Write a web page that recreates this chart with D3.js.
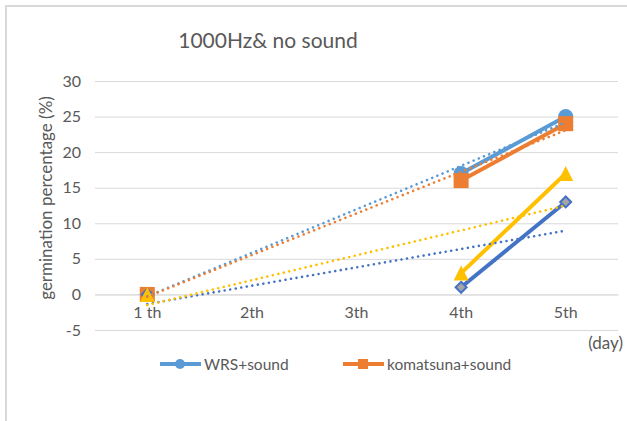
<!DOCTYPE html>
<html>
<head>
<meta charset="utf-8">
<script src="https://cdn.jsdelivr.net/npm/d3@7"></script>
<style>
  html, body { margin: 0; padding: 0; background: #fff; }
  svg { display: block; font-family: "Lato", "Liberation Sans", sans-serif; }
</style>
</head>
<body>
<svg id="chart" width="627" height="421"></svg>
<script>
// Germination percentage by day, with and without sound
const categories = ["1 th", "2th", "3th", "4th", "5th"];
const yTicks = [-5, 0, 5, 10, 15, 20, 25, 30];

const wrsSound = [0, null, null, 17, 25];
const komatsunaSound = [0, null, null, 16, 24];
const wrsNoSound = [0, null, null, 1, 13];
const komatsunaNoSound = [0, null, null, 3, 17];

const seriesNames = ["WRS+sound", "komatsuna+sound", "WRS+no sound", "komatsuna+no sound"];
const seriesValues = [wrsSound, komatsunaSound, wrsNoSound, komatsunaNoSound];
const seriesColors = ["#5B9BD5", "#ED7D31", "#4472C4", "#FFC000"];
const seriesMarkers = ["circle", "square", "diamond", "triangle"];
const legendEntries = ["WRS+sound", "komatsuna+sound"];

const svg = d3.select("#chart");

// chart frame
svg.append("line").attr("x1", 5).attr("x2", 627).attr("y1", 6).attr("y2", 6)
  .attr("stroke", "#d9d9d9").attr("stroke-width", 2);
svg.append("line").attr("x1", 6).attr("x2", 6).attr("y1", 5).attr("y2", 421)
  .attr("stroke", "#d9d9d9").attr("stroke-width", 2);

const plot = { left: 95, right: 618, top: 81, bottom: 330 };

const x = d3.scaleBand().domain(categories).range([plot.left, plot.right]);
const xc = c => x(c) + x.bandwidth() / 2;
const y = d3.scaleLinear().domain([-5, 30]).range([plot.bottom, plot.top]);

// gridlines and value labels (plain hyphen for negatives)
const yAxis = d3.axisLeft(y).tickValues(yTicks).tickFormat(d => String(d))
  .tickSize(-(plot.right - plot.left)).tickPadding(14);
const gy = svg.append("g").attr("transform", `translate(${plot.left},0)`).call(yAxis);
gy.select(".domain").remove();
gy.selectAll(".tick line").attr("stroke", "#d9d9d9").attr("stroke-width", 1);
gy.selectAll(".tick text").attr("fill", "#595959").style("font-size", "16px")
  .style("font-family", "Lato, 'Liberation Sans', sans-serif");

// category axis along the zero line
const xAxis = d3.axisBottom(x).tickSize(0).tickPadding(12);
const gx = svg.append("g").attr("transform", `translate(0,${y(0)})`).call(xAxis);
gx.select(".domain").attr("stroke", "#d9d9d9");
gx.selectAll(".tick text").attr("fill", "#595959").style("font-size", "16px")
  .style("font-family", "Lato, 'Liberation Sans', sans-serif");

// title and axis titles
svg.append("text").attr("x", 268).attr("y", 48).attr("text-anchor", "middle")
  .attr("fill", "#595959").style("font-size", "21px").text("1000Hz& no sound");
svg.append("text").attr("transform", "translate(52,198) rotate(-90)").attr("text-anchor", "middle")
  .attr("fill", "#595959").style("font-size", "17px").text("germination percentage (%)");
svg.append("text").attr("x", 623).attr("y", 349).attr("text-anchor", "end")
  .attr("fill", "#595959").style("font-size", "17px").text("(day)");

function drawMarker(g, type, cx, cy, color, size) {
  if (type === "circle") {
    g.append("circle").attr("cx", cx).attr("cy", cy).attr("r", size / 2).attr("fill", color);
  } else if (type === "square") {
    g.append("rect").attr("x", cx - size / 2).attr("y", cy - size / 2)
      .attr("width", size).attr("height", size).attr("fill", color);
  } else if (type === "triangle") {
    const h = size;
    g.append("path").attr("d", `M${cx},${cy - h / 2}L${cx + size / 2},${cy + h / 2}L${cx - size / 2},${cy + h / 2}Z`)
      .attr("fill", color);
  } else if (type === "diamond") {
    const r = size / 2;
    g.append("path").attr("d", `M${cx},${cy - r}L${cx + r},${cy}L${cx},${cy + r}L${cx - r},${cy}Z`)
      .attr("fill", "#A5A5A5").attr("stroke", color).attr("stroke-width", 2);
  }
}

const line = d3.line()
  .defined(d => d.v !== null)
  .x(d => xc(d.c))
  .y(d => y(d.v));

const layers = svg.append("g");
seriesValues.forEach((vals, i) => {
  const pts = vals.map((v, j) => ({ c: categories[j], v }));
  const g = layers.append("g");
  g.append("path").datum(pts).attr("d", line).attr("fill", "none")
    .attr("stroke", seriesColors[i]).attr("stroke-width", 4).attr("stroke-linejoin", "round");
  pts.filter(p => p.v !== null).forEach(p => {
    const size = seriesMarkers[i] === "diamond" ? 11 : 15;
    drawMarker(g, seriesMarkers[i], xc(p.c), y(p.v), seriesColors[i], size);
  });
});

// linear trendlines (least squares over category positions 1..5)
seriesValues.forEach((vals, i) => {
  const pts = vals.map((v, j) => [j + 1, v]).filter(p => p[1] !== null);
  const mx = d3.mean(pts, p => p[0]);
  const my = d3.mean(pts, p => p[1]);
  const sxy = d3.sum(pts, p => (p[0] - mx) * (p[1] - my));
  const sxx = d3.sum(pts, p => (p[0] - mx) ** 2);
  const slope = sxy / sxx;
  const f = t => my + slope * (t - mx);
  const ends = [1, categories.length].map(t => ({ c: categories[t - 1], v: f(t) }));
  svg.append("path").datum(ends).attr("d", line).attr("fill", "none")
    .attr("stroke", seriesColors[i]).attr("stroke-width", 2.6)
    .attr("stroke-linecap", "round").attr("stroke-dasharray", "0.01 5.6");
});

// legend
const legendX = [160, 343];
legendEntries.forEach((name, k) => {
  const i = seriesNames.indexOf(name);
  const g = svg.append("g").attr("transform", `translate(${legendX[k]},364)`);
  g.append("line").attr("x1", 0).attr("x2", 41).attr("y1", 0).attr("y2", 0)
    .attr("stroke", seriesColors[i]).attr("stroke-width", 4);
  drawMarker(g, seriesMarkers[i], 20, 0, seriesColors[i], 10);
  g.append("text").attr("x", 44).attr("y", 6).attr("fill", "#595959")
    .style("font-size", "15.5px").text(name);
});
</script>
</body>
</html>
